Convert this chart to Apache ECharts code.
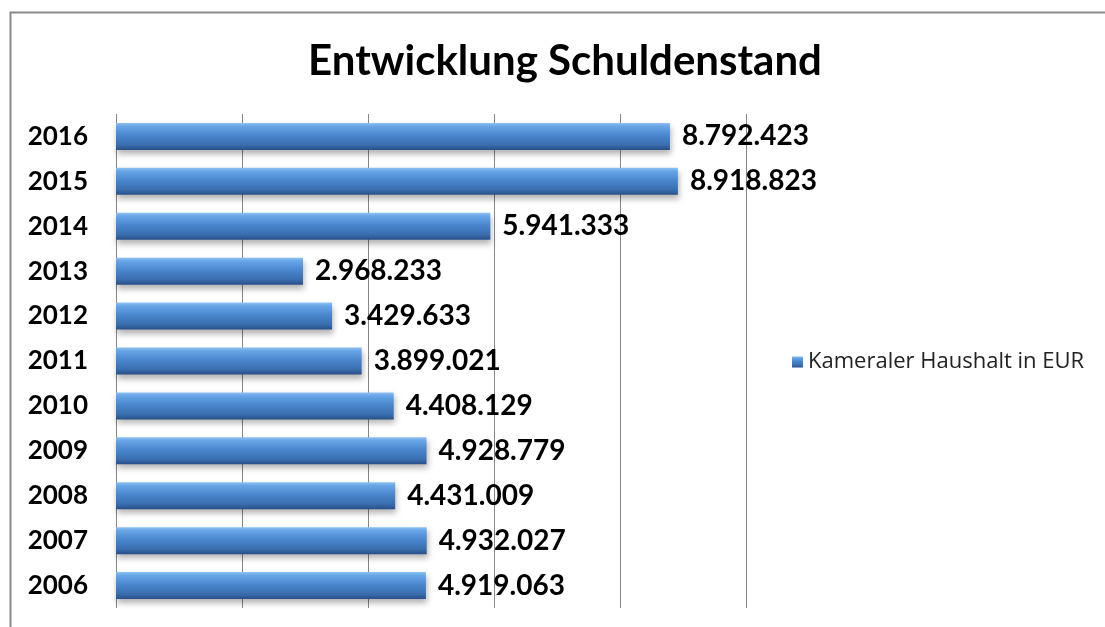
<!DOCTYPE html>
<html>
<head>
<meta charset="utf-8">
<script src="https://cdn.jsdelivr.net/npm/echarts@6/dist/echarts.min.js"></script>
<style>
    html, body { margin: 0; padding: 0; background: #fff; }
    #chart { width: 1105px; height: 627px; }
</style>
</head>
<body>
<div id="chart"></div>
<script>
// Daten
const years = ['2006', '2007', '2008', '2009', '2010', '2011', '2012', '2013', '2014', '2015', '2016']
const debt = [4919063, 4932027, 4431009, 4928779, 4408129, 3899021, 3429633, 2968233, 5941333, 8918823, 8792423]
const seriesName = 'Kameraler Haushalt in EUR'

// 8792423 -> 8.792.423
function fmt(v) {
    return String(v).replace(/\B(?=(\d{3})+(?!\d))/g, '.')
}

(function () {
    const myChart = echarts.init(document.getElementById('chart'))
    const font = 'Lato, "Liberation Sans", sans-serif'
    const option = {
        animation: false,
        title: {
            text: 'Entwicklung Schuldenstand',
            left: 560,
            textAlign: 'center',
            top: 35,
            textStyle: {
                fontFamily: font,
                fontWeight: 'bold',
                fontSize: 42,
                color: '#000'
            }
        },
        legend: {
            data: [seriesName],
            left: 787,
            top: 346,
            icon: 'rect',
            itemWidth: 11,
            itemHeight: 11,
            itemGap: 4,
            textStyle: {
                fontFamily: '"Open Sans", sans-serif',
                fontSize: 22,
                color: '#222'
            }
        },
        grid: {
            left: 116,
            right: 359,
            top: 114,
            bottom: 19,
            containLabel: false
        },
        xAxis: {
            type: 'value',
            min: 0,
            max: 10000000,
            interval: 2000000,
            axisLabel: { show: false },
            axisTick: { show: false },
            axisLine: { show: false },
            splitLine: {
                lineStyle: {
                    color: '#868686',
                    width: 1
                }
            }
        },
        yAxis: {
            type: 'category',
            data: years,
            axisTick: { show: false },
            axisLine: { show: false },
            axisLabel: {
                margin: 28,
                fontFamily: font,
                fontWeight: 'bold',
                fontSize: 26,
                color: '#000'
            }
        },
        series: [
            {
                name: seriesName,
                type: 'bar',
                data: debt,
                barWidth: 27,
                itemStyle: {
                    // 3D-Optik wie in Excel
                    color: new echarts.graphic.LinearGradient(0, 0, 0, 1, [
                        { offset: 0, color: '#8fc2f2' },
                        { offset: 0.12, color: '#68a6e8' },
                        { offset: 0.45, color: '#4a87cf' },
                        { offset: 0.8, color: '#3a6fb0' },
                        { offset: 1, color: '#284f88' }
                    ]),
                    shadowColor: 'rgba(0, 0, 0, 0.3)',
                    shadowBlur: 6,
                    shadowOffsetY: 4,
                    shadowOffsetX: 1
                },
                label: {
                    show: true,
                    position: 'right',
                    distance: 12,
                    formatter: p => fmt(p.value),
                    fontFamily: font,
                    fontWeight: 'bold',
                    fontSize: 28,
                    color: '#000'
                }
            }
        ],
        graphic: [
            {
                // Rahmen (rechts/unten abgeschnitten)
                type: 'rect',
                left: 8,
                top: 10,
                shape: { width: 1200, height: 700 },
                style: { fill: 'none', stroke: '#8a8a8a', lineWidth: 2 },
                silent: true
            }
        ]
    };
    myChart.setOption(option);
    window.addEventListener('resize', () => {
        myChart.resize();
    })
})();
</script>
</body>
</html>
